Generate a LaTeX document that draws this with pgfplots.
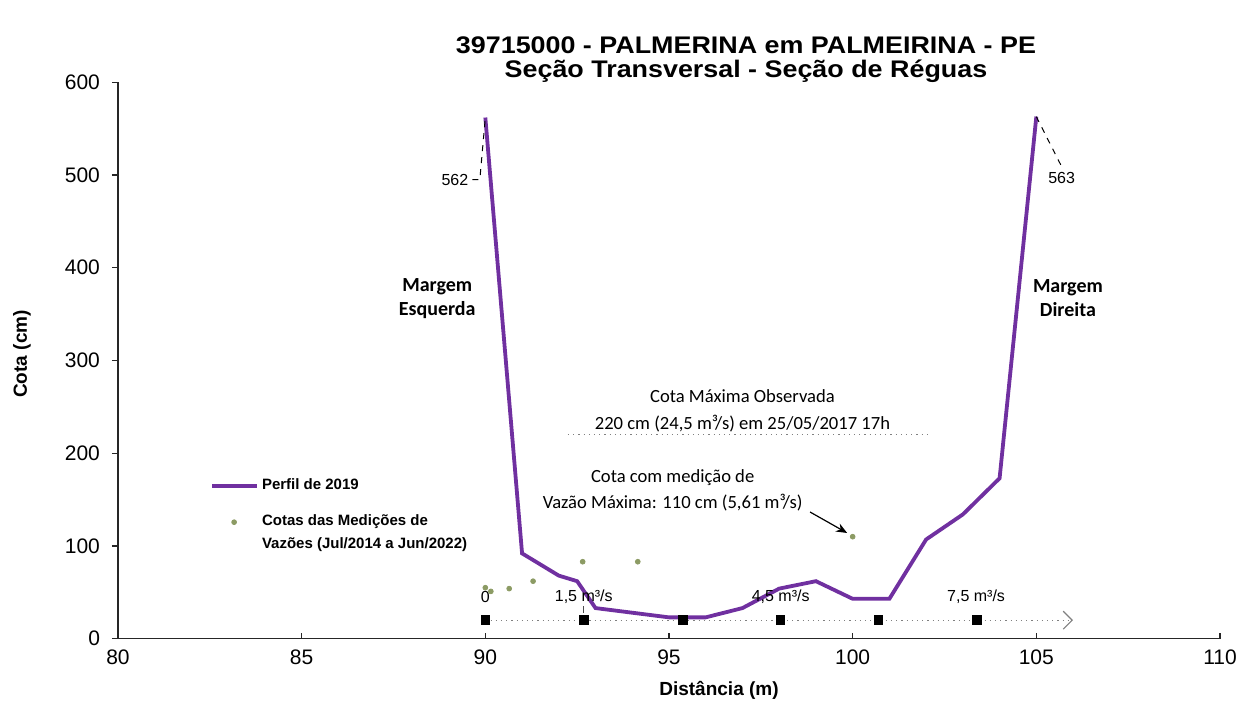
\documentclass[border=0pt]{standalone}
\usepackage{fontspec}
\setmainfont{Liberation Sans}
\newfontfamily\calibri{Carlito}
\newfontfamily\titlefont[FakeStretch=1.12]{Liberation Sans}
\usepackage{pgfplots}
\pgfplotsset{compat=1.18}
\usetikzlibrary{arrows.meta}
\definecolor{perfil}{RGB}{112,48,160}
\definecolor{medicao}{RGB}{140,155,100}
\pgfplotsset{
  lineleg/.style={legend image code/.code={\draw[##1] (0pt,0pt) -- (22.5pt,0pt);}},
  dotleg/.style={legend image code/.code={\draw[##1] plot coordinates {(11pt,5.5pt)};}},
}
\begin{document}
\begin{tikzpicture}
\useasboundingbox (0,0) rectangle (625pt,352pt);
\begin{axis}[
  at={(59pt,32.65pt)}, anchor=south west,
  scale only axis, width=551pt, height=278.2pt,
  xmin=80, xmax=110, ymin=0, ymax=600,
  xtick={80,85,...,110}, ytick={0,100,...,600},
  axis x line*=bottom, axis y line*=left,
  axis line style={line width=0.7pt, black!85, -},
  tick style={line width=0.6pt, black!85},
  xtick align=inside, ytick align=outside,
  major tick length=3pt,
  tick label style={font=\fontsize{10.5}{12}\selectfont},
  xticklabel style={yshift=-2pt},
  yticklabel style={xshift=-2.5pt},
  /pgf/number format/assume math mode=true,
  clip=false,
  legend style={at={(axis cs:82.5,176)}, anchor=north west, inner sep=0pt,
    draw=none, fill=none, row sep=8pt,
    font=\bfseries\fontsize{7.5}{11.5}\selectfont,
    nodes={align=left, inner sep=1.5pt}},
  legend cell align=left,
]
\addplot[perfil, line width=1.9pt, lineleg]
  coordinates {(90,562) (91,92) (92,68) (92.5,62) (93,33) (94,28) (95,23) (96,23)
   (97,33) (98,54) (99,62) (100,43) (101,43) (102,107) (103,134) (104,173) (105,563)};
\addlegendentry{Perfil de 2019}
\addplot[only marks, mark=*, mark size=1.2pt, medicao, dotleg]
  coordinates {(90,55) (90.15,51) (90.65,54) (91.3,62) (92.65,83) (94.15,83) (100,110)};
\addlegendentry{Cotas das Medições de\\Vazões (Jul/2014 a Jun/2022)}
\addplot[forget plot, gray, dotted, line width=0.6pt,
  -{Straight Barb[length=4.5pt, width=9pt, line width=0.6pt, sep=0pt]}]
  coordinates {(90,20) (106,20)};
\addplot[forget plot, only marks, mark=square*, mark size=2.2pt, black]
  coordinates {(90,20) (92.68,20) (95.37,20) (98.03,20) (100.70,20) (103.38,20)};
\begin{scope}[font=\fontsize{8}{9}\selectfont]
\node at (axis cs:90,45) {0};
\node at (axis cs:92.68,45) {1,5 m³/s};
\node at (axis cs:98.04,45) {4,5 m³/s};
\node at (axis cs:103.36,45) {7,5 m³/s};
\draw[black!70, line width=0.4pt] (axis cs:92.68,28) -- (axis cs:92.68,35);
\node[anchor=east, inner sep=1pt] at (axis cs:89.6,495) {562};
\node at (axis cs:105.69,497) {563};
\end{scope}
\draw[black, dashed, line width=0.5pt] (axis cs:89.65,495) -- (axis cs:89.85,495) -- (axis cs:90,562);
\draw[black, dashed, line width=0.5pt] (axis cs:105,563) -- (axis cs:105.69,509);
\draw[gray, dotted, line width=0.6pt] (axis cs:92.25,220) -- (axis cs:102.03,220);
\node[font=\calibri\fontsize{9.3}{13.5}\selectfont, align=center] at (axis cs:97,246)
  {Cota Máxima Observada\\220 cm (24,5 m³/s) em 25/05/2017 17h};
\node[font=\calibri\fontsize{9.3}{13}\selectfont, align=center] at (axis cs:95.1,160)
  {Cota com medição de\\Vazão Máxima: 110 cm (5,61 m³/s)};
\draw[black, line width=0.6pt, -{Stealth[length=5.5pt, width=4.5pt]}] (axis cs:98.84,136.6) -- (axis cs:99.85,114);
\node[font=\calibri\bfseries\fontsize{10}{12}\selectfont, align=center] at (axis cs:88.69,367)
  {Margem\\Esquerda};
\node[font=\calibri\bfseries\fontsize{10}{12}\selectfont, align=center] at (axis cs:105.86,367)
  {Margem\\Direita};
\end{axis}
\node[font=\titlefont\bfseries\fontsize{12}{12}\selectfont, align=center] at (373pt,322pt)
  {39715000 - PALMERINA em PALMEIRINA - PE\\Seção Transversal - Seção de Réguas};
\node[font=\bfseries\fontsize{9.5}{11}\selectfont, rotate=90] at (11pt,175pt) {Cota (cm)};
\node[font=\bfseries\fontsize{9.5}{11}\selectfont] at (359.5pt,7pt) {Distância (m)};
\end{tikzpicture}
\end{document}
